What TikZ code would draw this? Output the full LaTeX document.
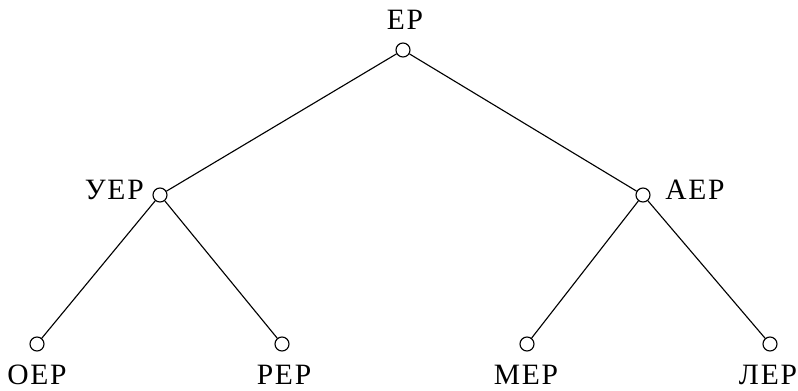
\documentclass[tikz,border=0pt]{standalone}
\usepackage{fontspec}
\setmainfont{Liberation Serif}
\usetikzlibrary{positioning}

\begin{document}
\begin{tikzpicture}[
  x=0.025cm, y=-0.025cm,
  font=\fontsize{21}{24}\selectfont\addfontfeature{LetterSpace=6},
  vert/.style={draw, circle, line width=0.8pt, fill=white, minimum size=0.35cm, inner sep=0pt},
  edge/.style={line width=0.8pt},
  lbl/.style={inner sep=0pt}
]
\useasboundingbox (0,0) rectangle (798,390);

% vertices
\node[vert] (ep)  at (403,50)  {};
\node[vert] (uep) at (160,195) {};
\node[vert] (aep) at (643,195) {};
\node[vert] (oep) at (37,344)  {};
\node[vert] (pep) at (282,344) {};
\node[vert] (mep) at (527,344) {};
\node[vert] (lep) at (770,344) {};

% labels
\node[lbl] (ep-t)  at (405,20)  {ЕР};
\node[lbl, anchor=east] (uep-t) at (144,190) {УЕР};
\node[lbl, anchor=west] (aep-t) at (665,190) {АЕР};
\node[lbl] (oep-t) at (37,375)  {ОЕР};
\node[lbl] (pep-t) at (284,375) {РЕР};
\node[lbl] (mep-t) at (526,375) {МЕР};
\node[lbl] (lep-t) at (768,375) {ЛЕР};

% edges
\draw[edge] (ep) -- (uep);
\draw[edge] (ep) -- (aep);
\draw[edge] (uep) -- (oep);
\draw[edge] (uep) -- (pep);
\draw[edge] (aep) -- (mep);
\draw[edge] (aep) -- (lep);

\end{tikzpicture}
\end{document}
